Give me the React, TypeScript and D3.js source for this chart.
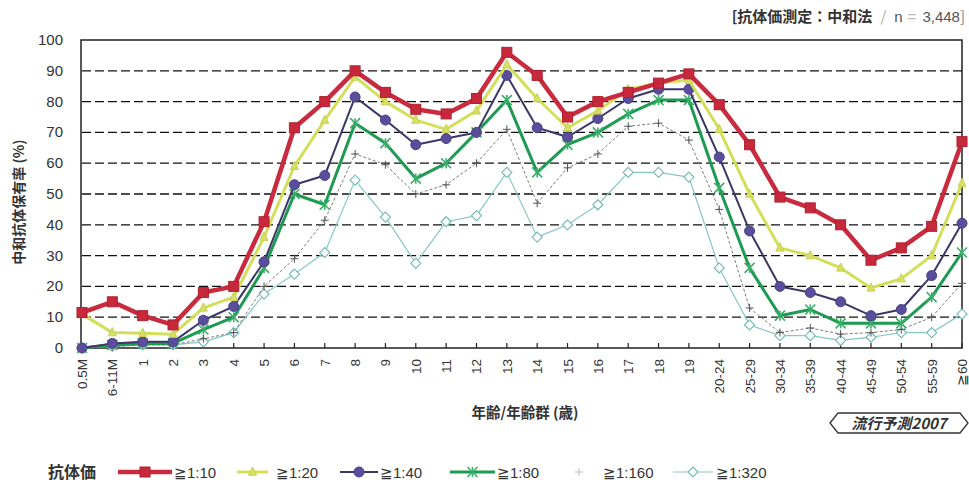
import React from 'react';
import * as d3 from 'd3';

const categories = [
  '0.5M', '6-11M', '1', '2', '3', '4', '5', '6', '7', '8', '9', '10', '11', '12', '13', '14',
  '15', '16', '17', '18', '19', '20-24', '25-29', '30-34', '35-39', '40-44', '45-49', '50-54',
  '55-59', '≧60',
];

const s10 = [11.5, 15, 10.5, 7.5, 18, 20, 41, 71.5, 80, 90, 83, 77.5, 76, 81, 96, 88.5, 75, 80, 83, 86, 89, 79, 66, 49, 45.5, 40, 28.5, 32.5, 39.5, 67];
const s20 = [11, 5, 4.8, 4.5, 13, 16.5, 36, 59, 74, 88, 80, 74, 71, 77, 92, 81, 71.5, 77, 84, 86, 87, 71, 50, 32.5, 30, 26, 19.5, 22.5, 30, 53.5];
const s40 = [0, 1.5, 2, 2, 9, 13.5, 28, 53, 56, 81.5, 74, 66, 68, 70, 88.5, 71.5, 68.5, 74.5, 81, 84, 84, 62, 38, 20, 18, 15, 10.5, 12.5, 23.5, 40.5];
const s80 = [0, 1, 1.5, 1.5, 6, 10, 26, 50, 46.5, 73, 66.5, 55, 60, 70, 80.5, 57, 66, 70, 76, 80.5, 80.5, 52, 26, 10.5, 12.5, 8, 8, 8, 16.5, 31];
const s160 = [0, 0.5, 1, 1, 3, 5, 20, 29, 41.5, 63, 59.5, 50, 53, 60, 71, 47, 58.5, 63, 72, 73, 67.5, 45, 13, 5, 6.5, 4.5, 5, 6, 10, 21];
const s320 = [0, 0.5, 1, 1, 2, 5, 17.5, 24, 31, 54.5, 42.5, 27.5, 41, 43, 57, 36, 40, 46.5, 57, 57, 55.5, 26, 7.5, 4, 4, 2.5, 3.5, 5, 5, 11];

const yTicks = [0, 10, 20, 30, 40, 50, 60, 70, 80, 90, 100];
const legendLabels = ['≧1:10', '≧1:20', '≧1:40', '≧1:80', '≧1:160', '≧1:320'];

const JP = '"Noto Sans CJK JP", "Noto Sans", sans-serif';
const NUM = '"Liberation Sans", Arial, sans-serif';

type Style = {
  color: string;
  width: number;
  dash?: string;
  marker: string;
  mfill: string;
  mstroke: string;
  size: number;
};

const styles: Style[] = [
  { color: '#c82a3e', width: 4.5, marker: 'square', mfill: '#c8283c', mstroke: '#b0202f', size: 10 },
  { color: '#d3df5a', width: 3, marker: 'triangle', mfill: '#d6e064', mstroke: '#c8d050', size: 8 },
  { color: '#3b3766', width: 2, marker: 'circle', mfill: '#5a4e9c', mstroke: '#4a3f88', size: 5 },
  { color: '#1f9a52', width: 3, marker: 'star', mfill: 'none', mstroke: '#3aae6a', size: 5 },
  { color: '#7c7c7c', width: 1, dash: '3,2', marker: 'plus', mfill: 'none', mstroke: '#555', size: 4 },
  { color: '#86c8c2', width: 1.2, marker: 'diamond', mfill: '#ffffff', mstroke: '#74bcb8', size: 5 },
];

const seriesList = [s10, s20, s40, s80, s160, s320];

function Marker({ x, y, st }: { x: number; y: number; st: Style }) {
  const s = st.size;
  switch (st.marker) {
    case 'square':
      return <rect x={x - s / 2} y={y - s / 2} width={s} height={s} fill={st.mfill} stroke={st.mstroke} strokeWidth={1} />;
    case 'triangle':
      return <path d={`M${x},${y - s / 1.6}L${x + s / 2},${y + s / 2.5}L${x - s / 2},${y + s / 2.5}Z`} fill={st.mfill} stroke={st.mstroke} strokeWidth={1} />;
    case 'circle':
      return <circle cx={x} cy={y} r={s} fill={st.mfill} stroke={st.mstroke} strokeWidth={1} />;
    case 'star':
      return (
        <g stroke={st.mstroke} strokeWidth={1.6}>
          <line x1={x - s} y1={y - s} x2={x + s} y2={y + s} />
          <line x1={x - s} y1={y + s} x2={x + s} y2={y - s} />
          <line x1={x} y1={y - s} x2={x} y2={y + s} />
        </g>
      );
    case 'plus':
      return (
        <g stroke={st.mstroke} strokeWidth={1}>
          <line x1={x - s} y1={y} x2={x + s} y2={y} />
          <line x1={x} y1={y - s} x2={x} y2={y + s} />
        </g>
      );
    default:
      return <path d={`M${x},${y - s}L${x + s},${y}L${x},${y + s}L${x - s},${y}Z`} fill={st.mfill} stroke={st.mstroke} strokeWidth={1.2} />;
  }
}

export default function App() {
  const width = 969;
  const height = 484;
  const left = 82;
  const right = 962;
  const top = 40;
  const bottom = 348;

  const x = d3.scalePoint<string>().domain(categories).range([left, right]);
  const y = d3.scaleLinear().domain([0, 100]).range([bottom, top]);

  const line = d3
    .line<number>()
    .x((_, i) => x(categories[i]) as number)
    .y((d) => y(d));

  const order = [5, 4, 3, 2, 1, 0];

  // legend positions (sample start, sample end, label start)
  const legendPos = [
    [118, 172, 174],
    [237, 268, 276],
    [340, 378, 380],
    [450, 495, 497],
    [572, 586, 603],
    [673, 713, 716],
  ];

  return (
    <div style={{ position: 'fixed', left: 0, top: 0, background: '#fff' }}>
      <svg width={width} height={height} style={{ display: 'block' }}>
        <rect width={width} height={height} fill="#fff" />

        {/* header */}
        <text x={965} y={22} textAnchor="end" fontFamily={JP} fontSize={15} fill="#333">
          <tspan fontWeight="bold">[抗体価測定：中和法</tspan>
          <tspan fill="#aaa" dx={8}>/</tspan>
          <tspan fontFamily={NUM} fill="#555" dx={8}>n</tspan>
          <tspan fontFamily={NUM} fill="#bbb" dx={5}>=</tspan>
          <tspan fontFamily={NUM} fill="#555" dx={6}>3,448</tspan>
          <tspan fill="#888">]</tspan>
        </text>

        {/* gridlines */}
        {yTicks.slice(1, -1).map((t) => (
          <line key={t} x1={left} x2={right} y1={y(t)} y2={y(t)} stroke="#111" strokeWidth={1.3} strokeDasharray="9,4" />
        ))}

        {/* frame */}
        <rect x={left - 1} y={top} width={right - left + 1} height={bottom - top} fill="none" stroke="#222" strokeWidth={1.5} />

        {/* x ticks */}
        {categories.map((c) => (
          <line key={c} x1={x(c)} x2={x(c)} y1={bottom} y2={bottom - 5} stroke="#222" strokeWidth={1.2} />
        ))}

        {/* y labels */}
        {yTicks.map((t) => (
          <text key={t} x={63} y={y(t) + 5} textAnchor="end" fontFamily={NUM} fontSize={15} fill="#333">
            {t}
          </text>
        ))}

        {/* x labels */}
        {categories.map((c) => (
          <text
            key={c}
            transform={`translate(${(x(c) as number) + 5},${bottom + 11}) rotate(-90)`}
            textAnchor="end"
            fontFamily={NUM}
            fontSize={13.5}
            fill="#333"
          >
            {c}
          </text>
        ))}

        {/* series */}
        {order.map((k) => {
          const st = styles[k];
          const data = seriesList[k];
          return (
            <g key={k}>
              <path d={line(data) || ''} fill="none" stroke={st.color} strokeWidth={st.width} strokeDasharray={st.dash} strokeLinejoin="round" />
              {data.map((v, i) => (
                <Marker key={i} x={x(categories[i]) as number} y={y(v)} st={st} />
              ))}
            </g>
          );
        })}

        {/* axis titles */}
        <text
          transform={`translate(24,${(top + bottom) / 2 + 8}) rotate(-90)`}
          textAnchor="middle"
          fontFamily={JP}
          fontWeight="bold"
          fontSize={14}
          fill="#333"
        >
          中和抗体保有率 (%)
        </text>
        <text x={525} y={418} textAnchor="middle" fontFamily={JP} fontWeight="bold" fontSize={14.5} fill="#333">
          年齢/年齢群 (歳)
        </text>

        {/* badge */}
        <path d="M830,423 L838,413 L960,413 L968,423 L960,433 L838,433 Z" fill="#fff" stroke="#333" strokeWidth={1.3} />
        <text x={899} y={429} textAnchor="middle" fontFamily={JP} fontWeight="bold" fontStyle="italic" fontSize={15} fill="#333">
          流行予測2007
        </text>

        {/* legend */}
        <text x={48} y={478} fontFamily={JP} fontWeight="bold" fontSize={16} fill="#333">
          抗体価
        </text>
        {legendPos.map(([a, b, lx], k) => {
          const st = styles[k];
          const ly = 472;
          return (
            <g key={k}>
              {k !== 4 && (
                <line x1={a} x2={b} y1={ly} y2={ly} stroke={st.color} strokeWidth={st.width} strokeDasharray={st.dash} />
              )}
              <Marker x={(a + b) / 2} y={ly} st={k === 4 ? { ...st, mstroke: '#bbb' } : st} />
              <text x={lx} y={ly + 6} fontFamily={NUM} fontSize={15} fill="#333">
                {legendLabels[k]}
              </text>
            </g>
          );
        })}
      </svg>
    </div>
  );
}
